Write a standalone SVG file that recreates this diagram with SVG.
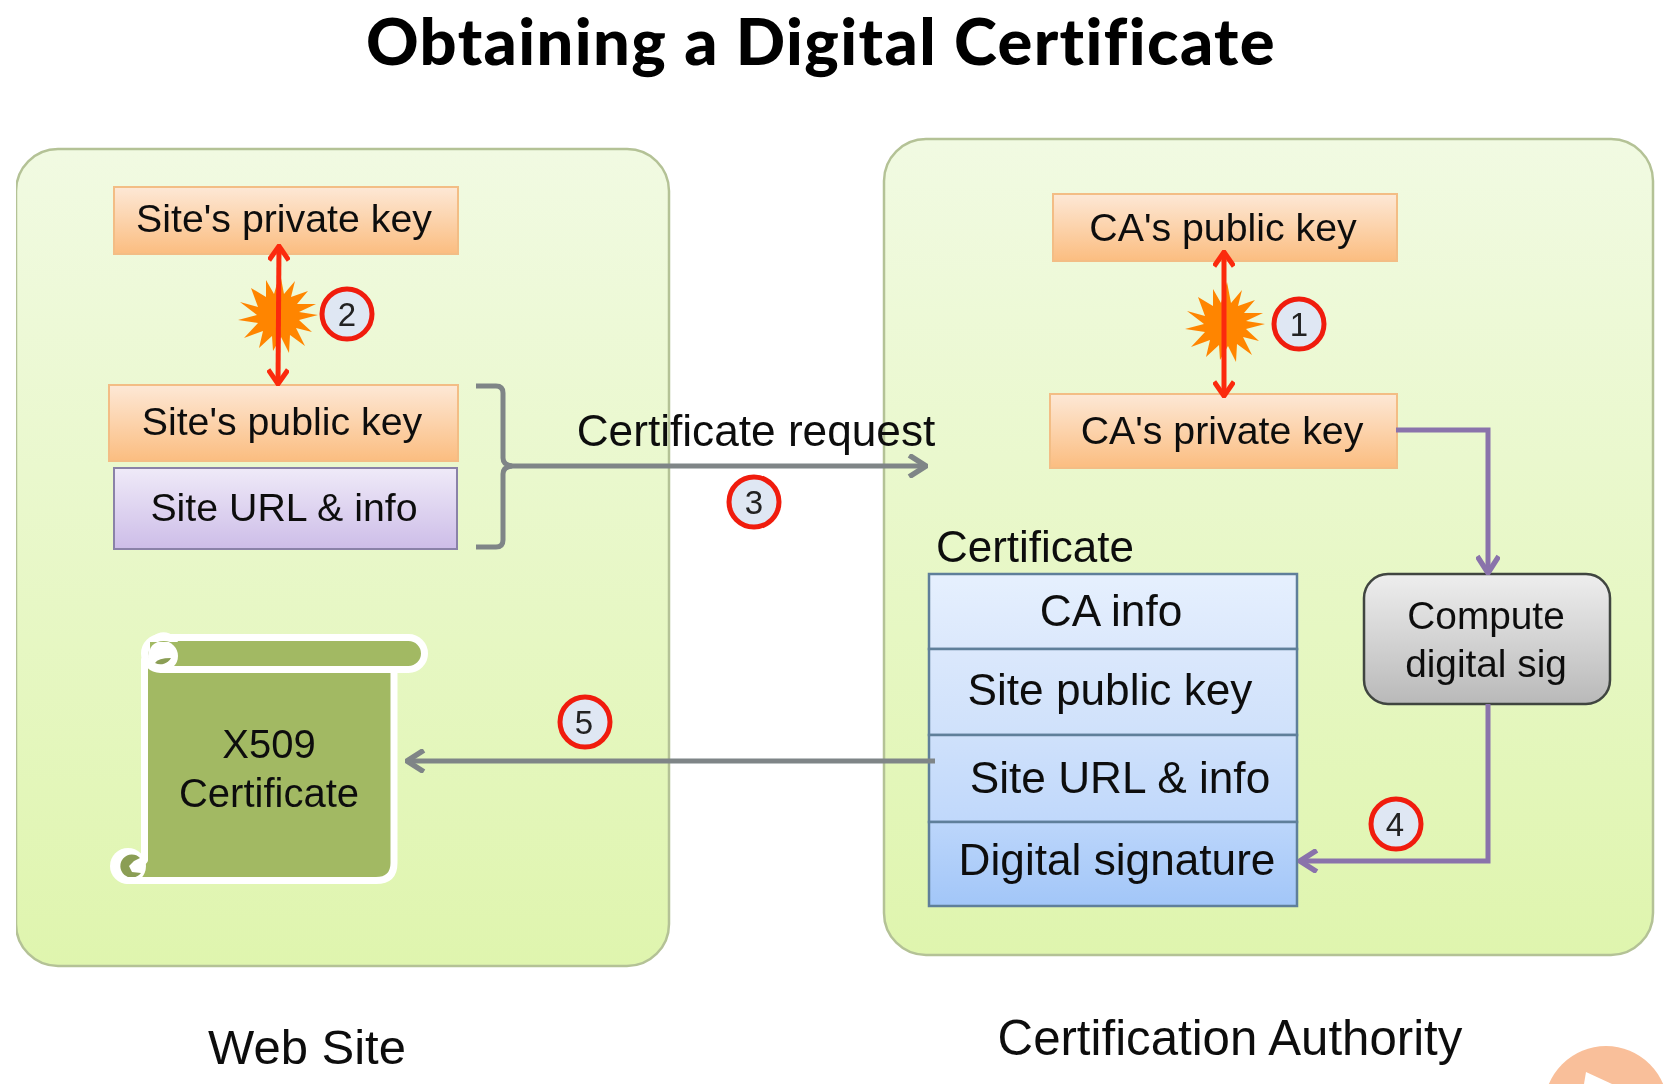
<svg xmlns="http://www.w3.org/2000/svg" width="1670" height="1084" viewBox="0 0 1670 1084">
<style>
text{font-family:"Liberation Sans",Arial,sans-serif;fill:#111;text-anchor:middle;font-size:39.3px}
.title{font-family:Lato,"Liberation Sans",sans-serif;font-weight:900;font-size:65px;fill:#000;font-variant-ligatures:none;letter-spacing:1.400px}
.big{font-size:44.2px}
.num{font-size:33px;fill:#222}
.panel{fill:url(#gPanel);stroke:#b4c296;stroke-width:2.5}
.orange{fill:url(#gOrange);stroke:#f3bd85;stroke-width:2}
.cell{stroke:#5f7f9a;stroke-width:2.5}
.badge{fill:#dfe7f3;stroke:#f01c10;stroke-width:5}
.gray{fill:none;stroke:#7f8587;stroke-width:5}
.purple{fill:none;stroke:#8a73ab;stroke-width:5}
.red{fill:none;stroke:#fb2a10;stroke-width:5}
.scroll{fill:#a2b964;stroke:#fff;stroke-width:7;stroke-linejoin:round}
</style>
<defs>
<filter id="soft" x="0" y="0" width="1" height="1"><feGaussianBlur stdDeviation="0.5"/></filter>
<linearGradient id="gPanel" x1="0" y1="0" x2="0" y2="1"><stop offset="0" stop-color="#f1fae2"/><stop offset="1" stop-color="#dff5ae"/></linearGradient>
<linearGradient id="gOrange" x1="0" y1="0" x2="0" y2="1"><stop offset="0" stop-color="#fde8d6"/><stop offset="1" stop-color="#fbbd80"/></linearGradient>
<linearGradient id="gPurple" x1="0" y1="0" x2="0" y2="1"><stop offset="0" stop-color="#efeaf8"/><stop offset="1" stop-color="#cdbde8"/></linearGradient>
<linearGradient id="gGray" x1="0" y1="0" x2="0" y2="1"><stop offset="0" stop-color="#eeeeee"/><stop offset="1" stop-color="#b9b9b9"/></linearGradient>
<linearGradient id="gC1" x1="0" y1="0" x2="0" y2="1"><stop offset="0" stop-color="#e6f0fe"/><stop offset="1" stop-color="#dbe8fc"/></linearGradient>
<linearGradient id="gC2" x1="0" y1="0" x2="0" y2="1"><stop offset="0" stop-color="#dbe8fc"/><stop offset="1" stop-color="#cfe1fb"/></linearGradient>
<linearGradient id="gC3" x1="0" y1="0" x2="0" y2="1"><stop offset="0" stop-color="#cfe1fb"/><stop offset="1" stop-color="#c0d8fb"/></linearGradient>
<linearGradient id="gC4" x1="0" y1="0" x2="0" y2="1"><stop offset="0" stop-color="#bcd6fb"/><stop offset="1" stop-color="#a2c6f8"/></linearGradient>
<polygon id="star" fill="#ff8500" points="40,0 21,5 34,17 18,13 27,31 12,20 11,38 3,22 -5,36 -6,21 -19,33 -15,16 -34,23 -20,8 -40,5 -21,0 -38,-13 -20,-8 -27,-27 -12,-18 -12,-35 -4,-21 2,-42 6,-21 17,-34 13,-18 30,-24 19,-11 38,-11 21,-3"/>
<marker id="aRed" viewBox="0 0 20 20" refX="18" refY="10" markerWidth="22" markerHeight="22" markerUnits="userSpaceOnUse" orient="auto-start-reverse"><path d="M5 1 L18 10 L5 19" fill="none" stroke="#fb2a10" stroke-width="4.5"/></marker>
<marker id="aGray" viewBox="0 0 20 20" refX="18" refY="10" markerWidth="24" markerHeight="24" markerUnits="userSpaceOnUse" orient="auto"><path d="M4 1 L18 10 L4 19" fill="none" stroke="#7f8587" stroke-width="4.5"/></marker>
<marker id="aPurple" viewBox="0 0 20 20" refX="18" refY="10" markerWidth="24" markerHeight="24" markerUnits="userSpaceOnUse" orient="auto"><path d="M4 1 L18 10 L4 19" fill="none" stroke="#8a73ab" stroke-width="4.5"/></marker>
</defs>
<rect width="1670" height="1084" fill="#fff"/>
<g filter="url(#soft)">
<text id="title" class="title" x="821" y="65">Obtaining a Digital Certificate</text>

<g id="panel-web-site"><rect class="panel" x="16" y="149" width="653" height="817" rx="42"/></g>
<g id="panel-ca"><rect class="panel" x="884" y="139" width="769" height="816" rx="42"/></g>

<g id="site-private-key"><rect class="orange" x="114" y="187" width="344" height="67"/><text x="284" y="232">Site's private key</text></g>
<g id="site-public-key"><rect class="orange" x="109" y="385" width="349" height="76"/><text x="282" y="435">Site's public key</text></g>
<g id="site-url-info"><rect x="114" y="468" width="343" height="81" fill="url(#gPurple)" stroke="#8a82a8" stroke-width="2"/><text x="284" y="521">Site URL &amp; info</text></g>
<g id="ca-public-key"><rect class="orange" x="1053" y="194" width="344" height="67"/><text x="1223" y="241">CA's public key</text></g>
<g id="ca-private-key"><rect class="orange" x="1050" y="394" width="347" height="74"/><text x="1222" y="444">CA's private key</text></g>

<g id="certificate">
<text x="1035" y="562" style="font-size:44px">Certificate</text>
<rect class="cell" x="929" y="574" width="368" height="75" fill="url(#gC1)"/>
<rect class="cell" x="929" y="649" width="368" height="86" fill="url(#gC2)"/>
<rect class="cell" x="929" y="735" width="368" height="87" fill="url(#gC3)"/>
<rect class="cell" x="929" y="822" width="368" height="84" fill="url(#gC4)"/>
<text x="1111" y="626" class="big">CA info</text>
<text x="1110" y="705" class="big">Site public key</text>
<text x="1120" y="793" class="big">Site URL &amp; info</text>
<text x="1117" y="875" class="big">Digital signature</text>
</g>

<g id="compute"><rect x="1364" y="574" width="246" height="130" rx="24" fill="url(#gGray)" stroke="#3f4540" stroke-width="2.5"/>
<text x="1486" y="629" style="font-size:38.8px">Compute</text><text x="1486" y="677" style="font-size:38.8px">digital sig</text></g>

<g id="x509">
<path class="scroll" d="M144.500 660 L394 660 L394 863 Q394 880.500 376 880.500 L128 880.500 L144.500 860Z"/>
<rect class="scroll" x="144.500" y="637.500" width="280" height="32" rx="16"/>
<circle cx="163" cy="656" r="15" fill="#fff"/>
<path d="M149 654 A16 14 0 0 1 168 642 L178 642 A14 14 0 0 0 149 654Z" fill="#fff"/>
<path d="M150 650 A14 10 0 0 1 170 642 L150 642Z" fill="#a2b964"/>
<path d="M155 663 Q158 658 171 658 A12 12 0 0 1 155 663Z" fill="#8b9e55"/>
<circle cx="128" cy="866" r="18" fill="#fff"/>
<path d="M140 858 A11.500 11.500 0 1 0 141 873 L132 872 L129 866 L134 861Z" fill="#8b9e55"/>
<path d="M127 880.500 L146 880.500" stroke="#fff" stroke-width="7"/>
<text x="269" y="758" style="font-size:40px">X509</text><text x="269" y="807" style="font-size:40px">Certificate</text>
</g>

<g id="connectors">
<path class="gray" d="M476 386 L496 386 Q503 386 503 393 L503 458 Q503 465 512 466 Q503 467 503 474 L503 540 Q503 547 496 547 L476 547"/>
<path class="gray" d="M510 466 L926 466" marker-end="url(#aGray)"/>
<path class="gray" d="M935 761 L407 761" marker-end="url(#aGray)"/>
<path class="purple" d="M1396 430 L1488 430 L1488 573" marker-end="url(#aPurple)"/>
<path class="purple" d="M1488 704 L1488 861 L1300 861" marker-end="url(#aPurple)"/>
</g>

<g id="burst-2"><use href="#star" x="278" y="315"/><path class="red" d="M278 384 L279 246" marker-start="url(#aRed)" marker-end="url(#aRed)"/></g>
<g id="burst-1"><use href="#star" x="1225" y="324"/><path class="red" d="M1224 396 L1224 252" marker-start="url(#aRed)" marker-end="url(#aRed)"/></g>

<text x="756" y="446" class="big">Certificate request</text>
<g id="step-1"><circle class="badge" cx="1299" cy="324" r="25"/><text class="num" x="1299" y="336">1</text></g>
<g id="step-2"><circle class="badge" cx="347" cy="314" r="25"/><text class="num" x="347" y="326">2</text></g>
<g id="step-3"><circle class="badge" cx="754" cy="502" r="25"/><text class="num" x="754" y="514">3</text></g>
<g id="step-4"><circle class="badge" cx="1396" cy="824" r="25"/><text class="num" x="1395" y="836">4</text></g>
<g id="step-5"><circle class="badge" cx="585" cy="722" r="25"/><text class="num" x="584" y="734">5</text></g>

<text id="label-web" x="307" y="1064" style="font-size:49px">Web Site</text>
<text id="label-ca" x="1230" y="1055" style="font-size:49.200px">Certification Authority</text>

<g id="play-button"><circle cx="1606" cy="1108" r="62" fill="#f9bf9a"/><path d="M1584 1084 L1586 1072 L1612 1084Z" fill="#fff"/></g>
</g>
</svg>
